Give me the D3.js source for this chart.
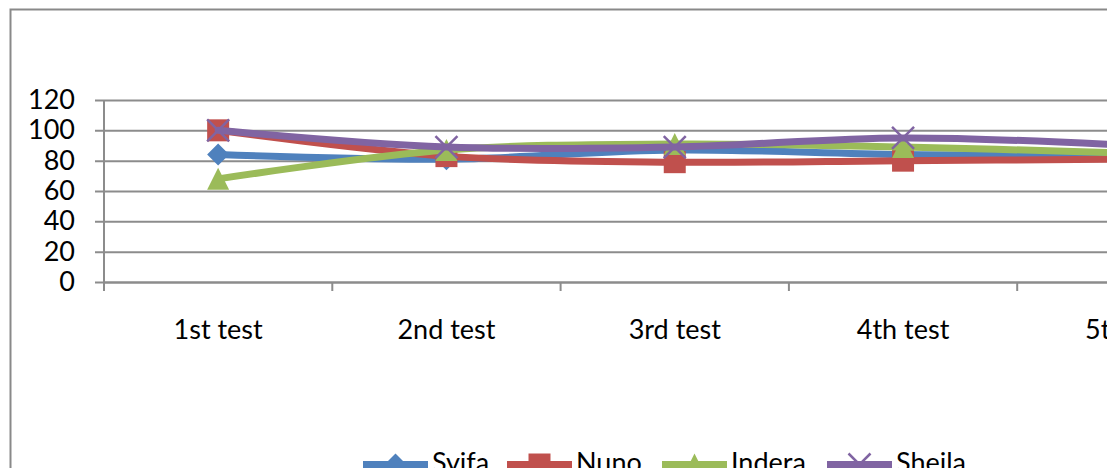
<!DOCTYPE html>
<html>
<head>
<meta charset="utf-8">
<script src="https://cdn.jsdelivr.net/npm/d3@7"></script>
<style>
  html, body { margin: 0; padding: 0; background: #fff; overflow: hidden; }
  svg { display: block; font-family: Lato, "Open Sans", sans-serif; }
</style>
</head>
<body>
<div id="chart"></div>
<script>
const categories = ["1st test", "2nd test", "3rd test", "4th test", "5th test"];
const seriesNames = ["Syifa", "Nuno", "Indera", "Sheila"];
const syifa = [84, 81, 87, 84, 84];
const nuno = [100, 83, 79, 80, 81];
const indera = [68, 87, 91, 89, 85];
const sheila = [100, 89, 89, 95, 90];
const yTicks = [0, 20, 40, 60, 80, 100, 120];

const colors = ["#4f81bd", "#c0504d", "#9bbb59", "#8064a2"];
const markers = ["diamond", "square", "triangle", "cross"];
const seriesValues = [syifa, nuno, indera, sheila];

const width = 1107;
const height = 468;
const plot = { left: 104, top: 100, bottom: 282, step: 228.3 };
const fontSize = 27;

const svg = d3.select("#chart").append("svg")
  .attr("width", width)
  .attr("height", height);

// chart frame (right and bottom edges sit outside the window)
svg.append("rect")
  .attr("x", 10.5).attr("y", 9.5)
  .attr("width", 1300).attr("height", 600)
  .attr("fill", "none")
  .attr("stroke", "#898989")
  .attr("stroke-width", 2);

const x = d3.scaleBand()
  .domain(categories)
  .range([plot.left, plot.left + plot.step * categories.length]);

const y = d3.scaleLinear()
  .domain([0, 120])
  .range([plot.bottom, plot.top]);

// gridlines + y labels
const gridG = svg.append("g")
  .attr("transform", `translate(${plot.left},0)`)
  .call(d3.axisLeft(y).tickValues(yTicks).tickSize(-1200).tickSizeOuter(0).tickPadding(29));
gridG.select(".domain").remove();
gridG.selectAll(".tick line")
  .attr("x1", -9)
  .attr("stroke", "#8c8c8c")
  .attr("stroke-width", 2);
gridG.selectAll(".tick text")
  .attr("font-size", fontSize)
  .attr("fill", "#000")
  .attr("font-family", "Lato, sans-serif");

// y axis line
svg.append("line")
  .attr("x1", plot.left).attr("x2", plot.left)
  .attr("y1", plot.top).attr("y2", plot.bottom)
  .attr("stroke", "#8c8c8c").attr("stroke-width", 2);

// x axis
const xAxisG = svg.append("g")
  .attr("transform", `translate(0,${plot.bottom})`)
  .call(d3.axisBottom(x).tickSize(0).tickPadding(38));
xAxisG.select(".domain")
  .attr("stroke", "#8c8c8c").attr("stroke-width", 2);
xAxisG.selectAll(".tick text")
  .attr("font-size", fontSize)
  .attr("fill", "#000")
  .attr("font-family", "Lato, sans-serif");

// category boundary ticks
const boundaries = d3.range(categories.length + 1).map(i => plot.left + x.step() * i);
xAxisG.selectAll(".boundary")
  .data(boundaries)
  .join("line")
  .attr("class", "boundary")
  .attr("x1", d => d).attr("x2", d => d)
  .attr("y1", 0).attr("y2", 9)
  .attr("stroke", "#8c8c8c").attr("stroke-width", 2);

function markerPath(type, s) {
  const h = s / 2;
  if (type === "diamond") return `M0,${-h}L${h},0L0,${h}L${-h},0Z`;
  if (type === "square") return `M${-h},${-h}H${h}V${h}H${-h}Z`;
  if (type === "triangle") return `M0,${-h}L${h},${h}L${-h},${h}Z`;
  return `M${-h},${-h}L${h},${h}M${h},${-h}L${-h},${h}`;
}

function drawMarker(g, type, color, size) {
  const p = g.append("path").attr("d", markerPath(type, size));
  if (type === "cross") {
    p.attr("fill", "none").attr("stroke", color).attr("stroke-width", 2.5);
  } else {
    p.attr("fill", color);
  }
}

const line = d3.line()
  .x((d, i) => x(categories[i]) + x.bandwidth() / 2)
  .y(d => y(d))
  .curve(d3.curveCardinal.tension(0));

seriesValues.forEach((vals, si) => {
  const g = svg.append("g").attr("class", "series");
  g.append("path")
    .attr("d", line(vals))
    .attr("fill", "none")
    .attr("stroke", colors[si])
    .attr("stroke-width", 7)
    .attr("stroke-linejoin", "round")
    .attr("stroke-linecap", "round");
  vals.forEach((v, i) => {
    const mg = g.append("g")
      .attr("transform", `translate(${x(categories[i]) + x.bandwidth() / 2},${y(v)})`);
    drawMarker(mg, markers[si], colors[si], 22);
  });
});

// legend (cut off by the bottom of the window, as in the reference)
const legendX = [363, 507, 662, 827];
const legendY = 464.5;
const legend = svg.append("g");
seriesNames.forEach((name, si) => {
  const g = legend.append("g").attr("transform", `translate(${legendX[si]},${legendY})`);
  g.append("line")
    .attr("x1", 0).attr("x2", 65)
    .attr("stroke", colors[si]).attr("stroke-width", 7);
  const mg = g.append("g").attr("transform", "translate(32.5,0)");
  drawMarker(mg, markers[si], colors[si], 22);
  g.append("text")
    .attr("x", 69)
    .attr("y", 7)
    .attr("font-size", fontSize)
    .attr("fill", "#000")
    .text(name);
});
</script>
</body>
</html>
